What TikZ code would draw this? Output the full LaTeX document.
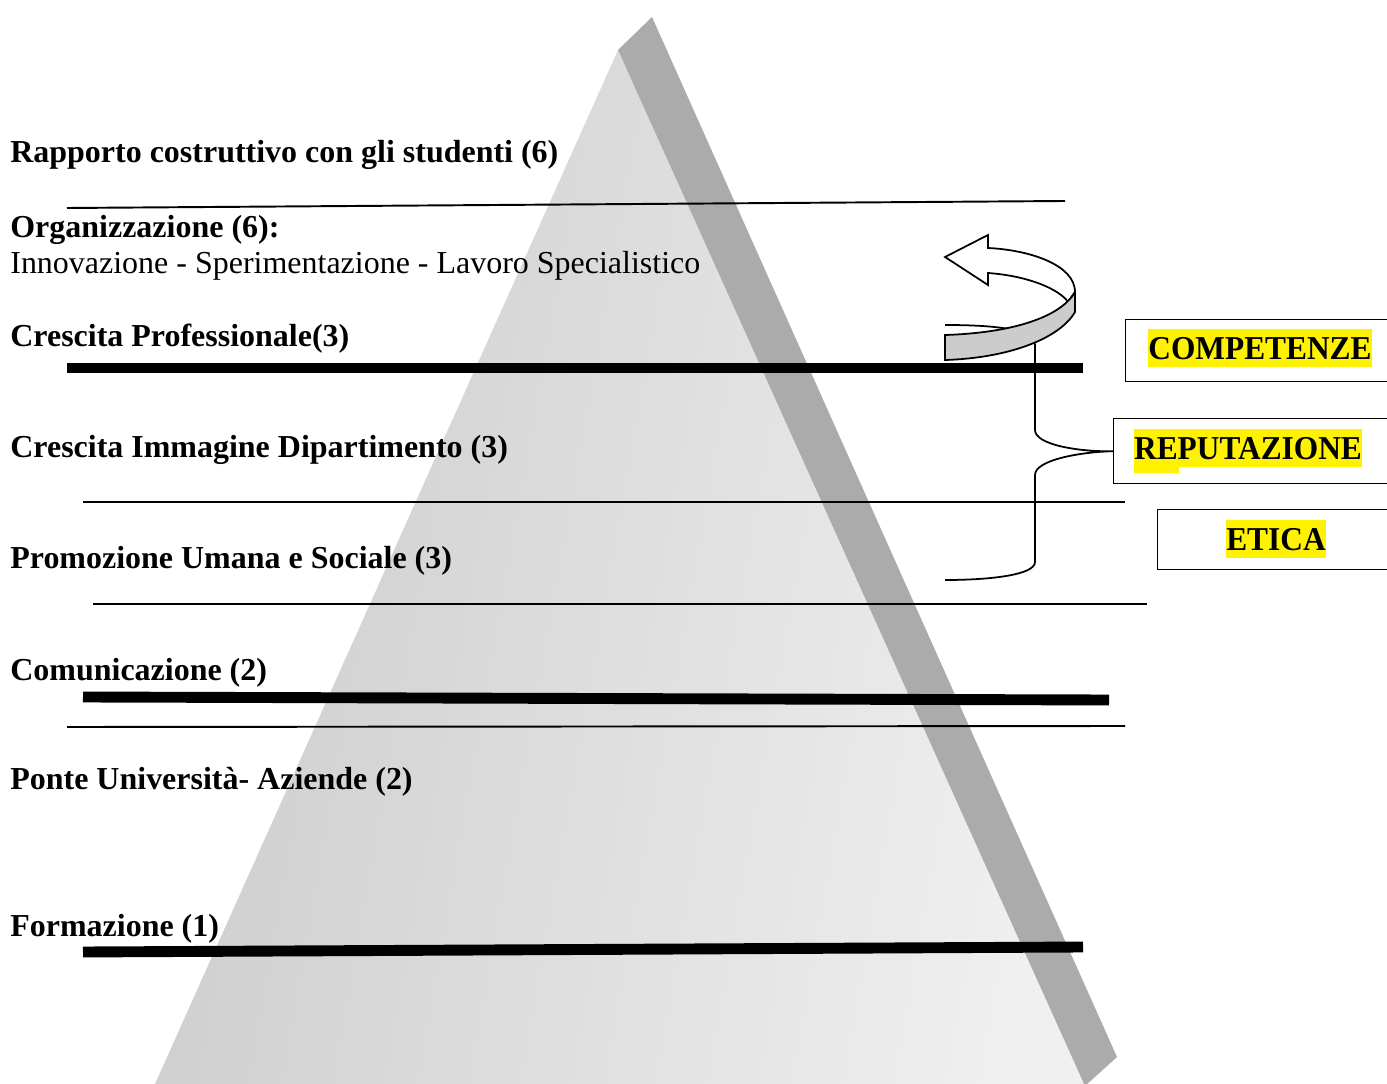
\documentclass[tikz,border=0pt]{standalone}
\usepackage{fontspec}
\usepackage{graphicx}
\setmainfont{Liberation Serif}
\newcommand{\narrowcaps}[1]{\scalebox{0.94}[1]{#1}}
\begin{document}
\begin{tikzpicture}[x=0.02cm,y=-0.02cm,
  lvl/.style={anchor=base west, inner sep=0pt, font=\bfseries\fontsize{18.2}{21}\selectfont},
  sub/.style={anchor=base west, inner sep=0pt, font=\fontsize{18.2}{21}\selectfont},
  thin/.style={line width=1.1pt},
  thick/.style={line width=6.2pt},
  boxed/.style={draw, line width=0.8pt, anchor=north west, minimum width=5.6cm, inner sep=0pt},
  tag/.style={fill=yellow, anchor=base, inner sep=0pt, text height=17.6pt, text depth=4pt,
    font=\bfseries\fontsize{19}{22}\selectfont}]
\useasboundingbox (0,0) rectangle (1387,1084);
\begin{scope}
\clip (0,0) rectangle (1387,1084);
% pyramid: lit front face and dark side face
\shade[left color=black!20, right color=black!6, shading angle=80]
  (155,1084) -- (618,50) -- (1085,1084) -- cycle;
\fill[black!33] (618,50) -- (652,17) -- (1117,1057) -- (1085,1086) -- cycle;

% level separators
\draw[thin] (67,208) -- (1065,201);
\draw[thick] (67,368) -- (1083,368);
\draw[thin] (83,502) -- (1125,502);
\draw[thin] (93,604) -- (1147,604);
\draw[thick] (83,697) -- (1109,700);
\draw[thin] (67,727) -- (1125,726);
\draw[thick] (83,952) -- (1083,947);

% level labels
\node[lvl] (l6a) at (10,163) {Rapporto costruttivo con gli studenti (6)};
\node[lvl] (l6b) at (10,238) {Organizzazione (6):};
\node[sub] (l6c) at (10,274) {Innovazione - Sperimentazione - Lavoro Specialistico};
\node[lvl] (l3a) at (10,347) {Crescita Professionale(3)};
\node[lvl] (l3b) at (10,458) {Crescita Immagine Dipartimento (3)};
\node[lvl] (l3c) at (10,568) {Promozione Umana e Sociale (3)};
\node[lvl] (l2a) at (10,680) {Comunicazione (2)};
\node[lvl] (l2b) at (10,789) {Ponte Università- Aziende (2)};
\node[lvl] (l1) at (10,936) {Formazione (1)};

% value boxes
\node[boxed, minimum height=1.24cm] (comp) at (1125,319) {};
\node[boxed, minimum height=1.30cm] (rep) at (1113,418) {};
\node[boxed, minimum height=1.20cm] (eti) at (1157,509) {};
\fill[yellow] (1134,460) rectangle (1179,473);
\node[tag] (tcomp) at (1260,360) {\narrowcaps{COMPETENZE}};
\node[tag] (trep) at (1248,460) {\narrowcaps{REPUTAZIONE}};
\node[tag] (teti) at (1276,551) {\narrowcaps{ETICA}};

% brace gathering the levels
\draw[line width=1pt] (945,325) .. controls (1000,325) and (1035,330) .. (1035,345)
  -- (1035,430) .. controls (1035,445) and (1080,452) .. (rep.west)
  .. controls (1080,452) and (1035,460) .. (1035,475)
  -- (1035,562) .. controls (1035,575) and (990,580) .. (945,580);

% curved ribbon arrow
\draw[line width=1pt, fill=white, line join=miter]
  (1075,292) .. controls (1075,265) and (1030,250) .. (988,248) -- (988,235)
  -- (945,257) -- (988,285) -- (988,273)
  .. controls (1030,276) and (1060,290) .. (1068,302) -- cycle;
\draw[line width=1pt, fill=black!20]
  (945,335) .. controls (1010,333) and (1060,318) .. (1075,292)
  -- (1075,312) .. controls (1060,338) and (1010,358) .. (945,360) -- cycle;
\end{scope}
\end{tikzpicture}
\end{document}
